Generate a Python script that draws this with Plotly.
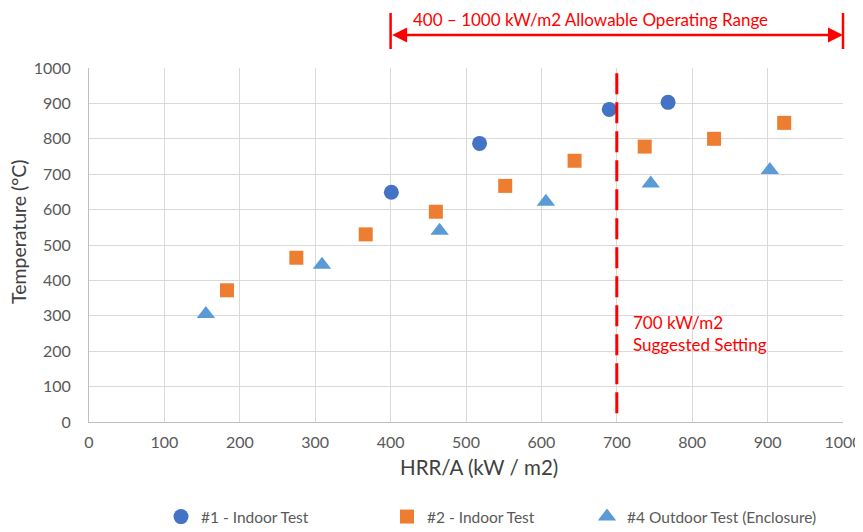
import plotly.graph_objects as go

# ---- data ----
s1_name = "#1 - Indoor Test"
s1_x = [401, 518, 690, 768]
s1_y = [649, 787, 883, 903]

s2_name = "#2 - Indoor Test"
s2_x = [183, 275, 367, 460, 552, 644, 737, 829, 922]
s2_y = [372, 464, 530, 594, 667, 738, 778, 800, 845]

s3_name = "#4 Outdoor Test (Enclosure)"
s3_x = [155, 309, 465, 606, 745, 903]
s3_y = [305, 444, 540, 622, 674, 712]

x_ticks = [0, 100, 200, 300, 400, 500, 600, 700, 800, 900, 1000]
y_ticks = [0, 100, 200, 300, 400, 500, 600, 700, 800, 900, 1000]

x_title = "HRR/A (kW / m2)"
y_title = "Temperature (°C)"

range_low, range_high = 400, 1000
suggested = 700

FONT = "Lato"
GRAY = "#595959"
TITLE_GRAY = "#404040"
RED = "#FF0000"
OFF = 8                      # page body margin in the browser
W, H = 863 - OFF, 532 - OFF

fig = go.Figure()
fig.add_trace(go.Scatter(x=s1_x, y=s1_y, mode="markers", name=s1_name, showlegend=True,
                         marker=dict(symbol="circle", size=15, color="#4472C4"),
                         legend="legend"))
fig.add_trace(go.Scatter(x=s2_x, y=s2_y, mode="markers", name=s2_name, showlegend=True,
                         marker=dict(symbol="square", size=14, color="#ED7D31"),
                         legend="legend2"))
fig.add_trace(go.Scatter(x=s3_x, y=s3_y, mode="markers", name=s3_name, showlegend=True,
                         marker=dict(symbol="triangle-up", size=16, color="#5B9BD5"),
                         legend="legend3"))

# range arrow
fig.add_annotation(x=range_high, y=1.0932, xref="x", yref="paper",
                   ax=range_low, ay=0, axref="x", ayref="pixel",
                   text="", showarrow=True, arrowside="end+start",
                   arrowhead=2, arrowsize=1.2, arrowwidth=2.5, arrowcolor=RED,
                   standoff=0, startstandoff=0)
for xv in (range_low, range_high):
    fig.add_shape(type="line", xref="paper", yref="paper",
                  x0=xv / 1000, x1=xv / 1000, y0=1.0537, y1=1.1554,
                  line=dict(color=RED, width=2.5))
fig.add_annotation(x=427, y=1.138, xref="x", yref="paper", xanchor="left", yanchor="middle",
                   text=f"{range_low} – {range_high} kW/m2 Allowable Operating Range",
                   showarrow=False, font=dict(family=FONT, size=17, color=RED))

# suggested setting line
fig.add_shape(type="line", xref="x", yref="paper", x0=suggested, x1=suggested,
              y0=0.025, y1=1.0, line=dict(color=RED, width=3, dash="21px,8px"))
fig.add_annotation(x=719, y=0.251, xref="x", yref="paper", xanchor="left", yanchor="middle",
                   align="left", text=f"{suggested} kW/m2<br>Suggested Setting",
                   showarrow=False, font=dict(family=FONT, size=17, color=RED))

# axis titles (placed as in the reference)
fig.add_annotation(x=0.5172, y=-0.127, xref="paper", yref="paper",
                   xanchor="center", yanchor="middle", showarrow=False, text=x_title,
                   font=dict(family=FONT, size=20.5, color=TITLE_GRAY))
fig.add_annotation(x=-0.0942, y=0.5395, xref="paper", yref="paper", textangle=-90,
                   xanchor="center", yanchor="middle", showarrow=False, text=y_title,
                   font=dict(family=FONT, size=19.5, color=TITLE_GRAY))

axis_common = dict(showgrid=True, gridcolor="#D9D9D9", gridwidth=1, zeroline=False,
                   showline=True, linecolor="#BFBFBF", linewidth=1, ticks="",
                   automargin=False,
                   tickfont=dict(family=FONT, size=16, color=GRAY))

fig.update_xaxes(range=[0, 1000], tickvals=x_ticks, ticktext=[str(v) for v in x_ticks],
                 ticklabelstandoff=6, **axis_common)
fig.update_yaxes(range=[0, 1000], tickvals=y_ticks, ticktext=[str(v) for v in y_ticks],
                 ticklabelstandoff=14, **axis_common)

leg_common = dict(orientation="h", yanchor="middle", y=(532 - 517) / H, yref="container",
                  xanchor="left", xref="container",
                  font=dict(family=FONT, size=15.5, color=GRAY), bgcolor="rgba(0,0,0,0)")
fig.update_layout(
    width=W, height=H,
    margin=dict(l=89 - OFF, r=863 - 843, t=68 - OFF, b=532 - 422, autoexpand=False),
    plot_bgcolor="white", paper_bgcolor="white",
    font=dict(family=FONT, size=16, color=GRAY),
    showlegend=True,
    legend=dict(x=(161 - OFF) / W, **leg_common),
    legend2=dict(x=(387 - OFF) / W, **leg_common),
    legend3=dict(x=(587 - OFF) / W, **leg_common),
)

fig.write_html("out.html")
